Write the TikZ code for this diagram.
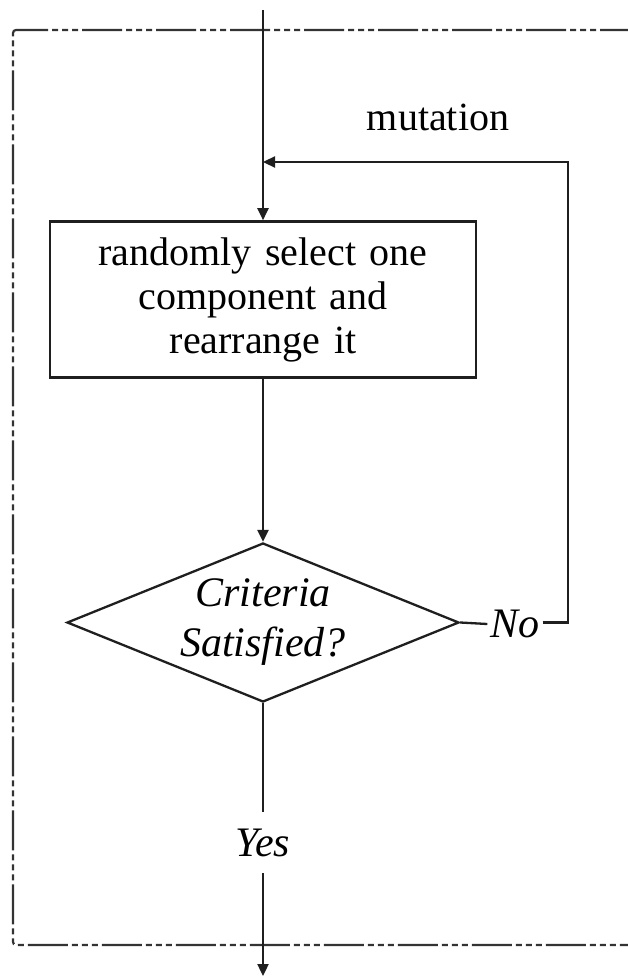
\documentclass[tikz,border=0pt]{standalone}
\usepackage{fontspec}
\setmainfont{Liberation Serif}
\usetikzlibrary{arrows.meta,shapes.geometric}

\tikzset{
  line/.style={draw=black!88, line width=2.3pt},
  arrow/.style={line, -{Triangle[length=12pt,width=11pt]}},
  frame/.style={draw=black!80, line width=2.2pt,
    dash pattern=on 40pt off 4pt on 6pt off 4pt on 6pt off 4pt on 6pt off 4pt,
    rounded corners=3pt},
  procbox/.style={draw=black!88, line width=2.6pt, minimum width=426pt,
    minimum height=156pt, inner sep=0pt, align=center, text width=420pt,
    font=\fontsize{40}{44}\selectfont},
  decision/.style={diamond, draw=black!88, line width=2.3pt, minimum width=392pt,
    minimum height=159pt, inner sep=0pt},
  itlabel/.style={font=\fontsize{42}{50}\selectfont\itshape, inner sep=0pt},
  plain/.style={font=\fontsize{40}{44}\selectfont, inner sep=0pt}
}

\begin{document}
\begin{tikzpicture}[x=1pt,y=-1pt]
  \useasboundingbox (0,0) rectangle (628,979);

  % dash-dot boundary, open on the right
  \draw[frame] (640,30) -- (13,30) -- (13,945) -- (640,945);

  % entry point and loop junction
  \coordinate (start) at (263,10);
  \coordinate (loopin) at (263,162);
  \coordinate (loopcorner) at (568,162);
  \coordinate (exit) at (263,976);

  % process step
  \node[procbox] (sel) at (263,299.5)
    {randomly select one\\component and\\rearrange it};

  % decision
  \node[decision, label={[itlabel, align=center]center:Criteria\\Satisfied?}]
    (crit) at (263,622.5) {};

  % branch labels
  \node[itlabel, inner xsep=3pt] (no) at (515,624) {No};
  \node[itlabel, minimum height=61pt] (yes) at (263,842.5) {Yes};
  \node[plain] (mut) at (438,117) {mutation};

  % connectors
  \draw[arrow] (start) -- (sel.north);
  \draw[arrow] (sel.south) -- (crit.north);
  \draw[line] (crit.east) -- (no.west);
  \draw[arrow] (no.east |- crit.east) -| (loopcorner) -- (loopin);
  \draw[line] (crit.south) -- (yes.north);
  \draw[arrow] (yes.south) -- (exit);
\end{tikzpicture}
\end{document}
